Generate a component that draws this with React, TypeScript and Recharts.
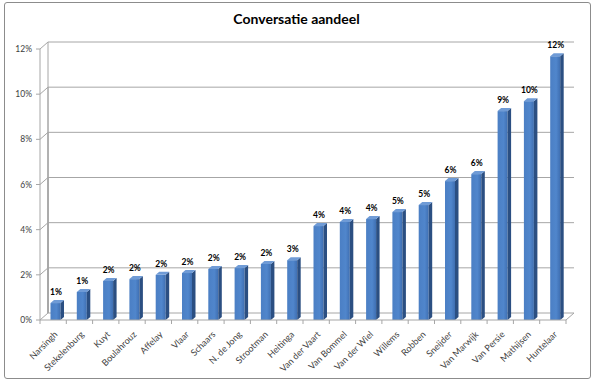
import { Bar, BarChart, CartesianGrid, LabelList, XAxis, YAxis } from "recharts";

const players = [
    "Narsingh", "Stekelenburg", "Kuyt", "Boulahrouz", "Affelay", "Vlaar", "Schaars",
    "N. de Jong", "Strootman", "Heitinga", "Van der Vaart", "Van Bommel", "Van der Wiel",
    "Willems", "Robben", "Sneijder", "Van Marwijk", "Van Persie", "Mathijsen", "Huntelaar",
];
const share = [
    0.75, 1.24, 1.73, 1.81, 2.0, 2.08, 2.26, 2.3, 2.48, 2.65,
    4.16, 4.34, 4.47, 4.78, 5.09, 6.15, 6.46, 9.25, 9.69, 11.68,
];
const yTicks = [0, 2, 4, 6, 8, 10, 12];

const data = players.map((name, i) => ({ name, share: share[i] }));

const W = 595;
const H = 382;
const DX = 8;
const DY = 7;
const font = "Lato, 'Open Sans', sans-serif";
const gridColor = "#a6a6a6";

function Bar3D(props: any) {
    const { x, y, width, height } = props;
    if (height <= 0) return null;
    const fx = x + 2.5;
    const d = 3.5;
    const t = 3;
    return (
        <g>
            <defs>
                <linearGradient id="front" x1="0" y1="0" x2="1" y2="0">
                    <stop offset="0%" stopColor="#4b7fc4" />
                    <stop offset="60%" stopColor="#5086cc" />
                    <stop offset="100%" stopColor="#3f6fb2" />
                </linearGradient>
            </defs>
            <rect x={fx} y={y} width={width} height={height} fill="url(#front)" />
            <polygon
                points={`${fx + width},${y} ${fx + width + d},${y - t} ${fx + width + d},${y + height - t} ${fx + width},${y + height}`}
                fill="#2b4f82"
            />
            <polygon
                points={`${fx},${y} ${fx + d},${y - t} ${fx + width + d},${y - t} ${fx + width},${y}`}
                fill="#6f9bd6"
            />
        </g>
    );
}

function GridLine(props: any) {
    const { x1, y1, x2, y, height } = props;
    const bottom = y + height;
    const isFloor = Math.abs(y1 - bottom) < 1;
    return (
        <g>
            <line x1={x1} y1={y1} x2={x1 + DX} y2={y1 - DY} stroke={gridColor} />
            <line x1={x1 + DX} y1={y1 - DY} x2={x2 + DX} y2={y1 - DY} stroke={gridColor} />
            <line x1={x1 + DX} y1={y1 - DY} x2={x1 + DX} y2={bottom - DY} stroke={gridColor} />
            {isFloor && (
                <line x1={x2} y1={y1} x2={x2 + DX} y2={y1 - DY} stroke={gridColor} />
            )}
        </g>
    );
}

function XTick(props: any) {
    const { x, y, payload } = props;
    const half = 13.15;
    const tx = x + 5;
    const ty = y + 7;
    return (
        <g>
            <line x1={x + half} y1={y - 8} x2={x + half} y2={y - 4} stroke={gridColor} />
            {payload.index === 0 && (
                <line x1={x - half} y1={y - 8} x2={x - half} y2={y - 4} stroke={gridColor} />
            )}
            <text
                x={tx}
                y={ty}
                transform={`rotate(-45, ${tx}, ${ty})`}
                textAnchor="end"
                fontSize={9}
                fill="#404040"
                fontFamily={font}
            >
                {payload.value}
            </text>
        </g>
    );
}

export default function App() {
    return (
        <div style={{ position: "absolute", left: 0, top: 0, width: W, height: H, background: "#fff" }}>
            <div
                style={{
                    position: "absolute",
                    left: 4,
                    top: 2,
                    width: 585,
                    height: 375,
                    border: "1px solid #8c8c8c",
                    borderRadius: 3,
                }}
            />
            <div
                style={{
                    position: "absolute",
                    left: 0,
                    top: 10,
                    width: W - 2,
                    textAlign: "center",
                    fontFamily: font,
                    fontWeight: 700,
                    fontSize: 14,
                    color: "#000",
                }}
            >
                Conversatie aandeel
            </div>
            <div style={{ position: "absolute", left: 0, top: 0 }}>
                <BarChart
                    width={W}
                    height={H}
                    data={data}
                    margin={{ top: 49, right: 29, left: 0, bottom: 0 }}
                    barCategoryGap={0}
                >
                    <CartesianGrid vertical={false} horizontal={(p: any) => <GridLine {...p} />} />
                    <XAxis
                        dataKey="name"
                        interval={0}
                        height={62}
                        tick={<XTick />}
                        tickLine={false}
                        axisLine={{ stroke: gridColor }}
                    />
                    <YAxis
                        domain={[0, 12]}
                        ticks={yTicks}
                        width={40}
                        tickFormatter={(v: number) => `${v}%`}
                        tick={{ fontSize: 8.5, fill: "#404040", fontFamily: font }}
                        tickSize={4}
                        tickMargin={4}
                        tickLine={{ stroke: gridColor }}
                        axisLine={{ stroke: gridColor }}
                    />
                    <Bar dataKey="share" barSize={10} shape={<Bar3D />} isAnimationActive={false}>
                        <LabelList
                            dataKey="share"
                            position="top"
                            offset={8}
                            formatter={(v: number) => `${Math.round(v)}%`}
                            style={{ fontSize: 8.5, fontWeight: 700, fill: "#000", fontFamily: font }}
                            dx={3}
                        />
                    </Bar>
                </BarChart>
            </div>
        </div>
    );
}
